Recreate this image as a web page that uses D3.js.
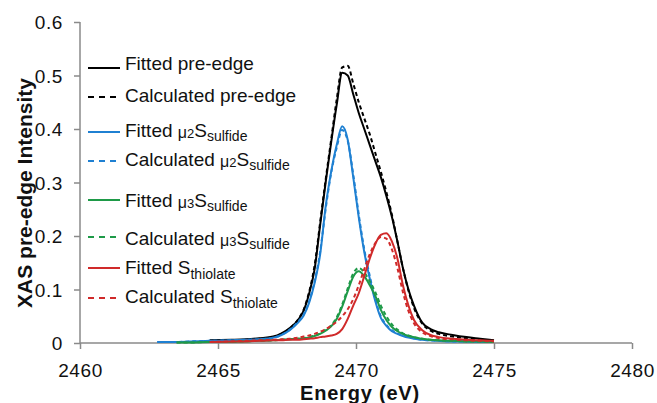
<!DOCTYPE html>
<html>
<head>
<meta charset="utf-8">
<script src="https://cdn.jsdelivr.net/npm/d3@7"></script>
<style>
  body { margin: 0; background: #fff; }
  svg { display: block; font-family: "Liberation Sans", Arial, sans-serif; }
  .axis path, .axis line { stroke: #8a8a8a; stroke-width: 1.5; }
  .axis text { font-size: 19px; fill: #111; letter-spacing: 0.6px; }
</style>
</head>
<body>
<div id="viz"></div>
<script>
// energy grid (eV) shared by all series
var energy = [2462.8, 2463.5, 2464.0, 2464.7, 2465.5, 2466.0, 2466.5, 2467.0, 2467.3, 2467.6,
  2467.9, 2468.1, 2468.3, 2468.5, 2468.7, 2468.9, 2469.1, 2469.3, 2469.5, 2469.7,
  2469.9, 2470.1, 2470.3, 2470.5, 2470.7, 2470.9, 2471.1, 2471.3, 2471.5, 2471.7,
  2471.9, 2472.1, 2472.4, 2472.7, 2473.0, 2473.5, 2474.0, 2474.5, 2475.0];

var fittedPreEdge = [null, null, null, 0.005, 0.006, 0.007, 0.009, 0.012, 0.018, 0.028,
  0.043, 0.060, 0.092, 0.138, 0.220, 0.300, 0.375, 0.445, 0.505, 0.500,
  0.465, 0.430, 0.400, 0.370, 0.340, 0.310, 0.275, 0.236, 0.190, 0.140,
  0.100, 0.070, 0.038, 0.026, 0.020, 0.015, 0.011, 0.008, 0.005];
var calcPreEdge = [null, null, null, 0.004, 0.005, 0.006, 0.008, 0.011, 0.017, 0.027,
  0.044, 0.062, 0.095, 0.145, 0.225, 0.305, 0.380, 0.455, 0.515, 0.518,
  0.485, 0.450, 0.420, 0.390, 0.355, 0.320, 0.282, 0.240, 0.190, 0.140,
  0.098, 0.066, 0.036, 0.023, 0.017, 0.012, 0.009, 0.006, 0.004];

var fittedMu2 = [0.002, 0.002, 0.003, 0.004, 0.005, 0.006, 0.007, 0.010, 0.015, 0.024,
  0.038, 0.051, 0.075, 0.112, 0.165, 0.255, 0.320, 0.370, 0.405, 0.380,
  0.310, 0.235, 0.170, 0.120, 0.078, 0.047, 0.032, 0.022, 0.017, 0.013,
  0.010, 0.008, 0.006, 0.005, 0.004, 0.003, 0.003, 0.002, 0.002];
var calcMu2 = [0.002, 0.002, 0.003, 0.004, 0.005, 0.006, 0.007, 0.010, 0.015, 0.025,
  0.040, 0.053, 0.078, 0.116, 0.170, 0.250, 0.318, 0.365, 0.398, 0.378,
  0.315, 0.240, 0.175, 0.125, 0.082, 0.050, 0.034, 0.024, 0.018, 0.014,
  0.011, 0.009, 0.006, 0.005, 0.004, 0.003, 0.003, 0.002, 0.002];

var fittedMu3 = [null, 0.001, 0.001, 0.002, 0.002, 0.003, 0.004, 0.005, 0.006, 0.007,
  0.008, 0.009, 0.010, 0.013, 0.017, 0.023, 0.031, 0.045, 0.068, 0.097,
  0.124, 0.134, 0.125, 0.108, 0.088, 0.062, 0.043, 0.030, 0.022, 0.017,
  0.013, 0.011, 0.008, 0.006, 0.005, 0.004, 0.003, 0.003, 0.002];
var calcMu3 = [null, 0.001, 0.001, 0.002, 0.002, 0.003, 0.004, 0.005, 0.006, 0.007,
  0.008, 0.009, 0.011, 0.014, 0.018, 0.025, 0.033, 0.048, 0.072, 0.102,
  0.130, 0.140, 0.132, 0.115, 0.095, 0.070, 0.050, 0.035, 0.025, 0.018,
  0.014, 0.011, 0.008, 0.006, 0.005, 0.004, 0.003, 0.003, 0.002];

var fittedThiolate = [null, null, null, 0.002, 0.003, 0.003, 0.004, 0.005, 0.005, 0.006,
  0.006, 0.007, 0.008, 0.009, 0.011, 0.012, 0.014, 0.017, 0.026, 0.045,
  0.070, 0.093, 0.125, 0.158, 0.185, 0.202, 0.205, 0.190, 0.158, 0.108,
  0.070, 0.043, 0.024, 0.015, 0.011, 0.008, 0.006, 0.005, 0.004];
var calcThiolate = [null, null, null, 0.002, 0.003, 0.004, 0.005, 0.006, 0.007, 0.008,
  0.010, 0.012, 0.014, 0.017, 0.021, 0.026, 0.032, 0.040, 0.050, 0.063,
  0.082, 0.108, 0.138, 0.166, 0.187, 0.198, 0.195, 0.175, 0.140, 0.095,
  0.060, 0.037, 0.020, 0.013, 0.009, 0.007, 0.005, 0.004, 0.003];

var xTicks = [2460, 2465, 2470, 2475, 2480];
var yTicks = [0, 0.1, 0.2, 0.3, 0.4, 0.5, 0.6];
var yTickLabels = ["0", "0.1", "0.2", "0.3", "0.4", "0.5", "0.6"];

var series = [
  { name: "Fitted", label: "pre-edge", values: fittedPreEdge, color: "#000000", dashed: false },
  { name: "Calculated", label: "pre-edge", values: calcPreEdge, color: "#000000", dashed: true },
  { name: "Fitted", label: "mu2", values: fittedMu2, color: "#1f80d2", dashed: false },
  { name: "Calculated", label: "mu2", values: calcMu2, color: "#1f80d2", dashed: true },
  { name: "Fitted", label: "mu3", values: fittedMu3, color: "#1e9a48", dashed: false },
  { name: "Calculated", label: "mu3", values: calcMu3, color: "#1e9a48", dashed: true },
  { name: "Fitted", label: "thiolate", values: fittedThiolate, color: "#d02a2a", dashed: false },
  { name: "Calculated", label: "thiolate", values: calcThiolate, color: "#d02a2a", dashed: true }
];

// legend rows: line y, text baseline
var legendRows = [[68, 70], [97, 102], [132, 137], [161, 166], [200, 207], [237, 245], [268, 274], [298, 303]];

var W = 657, H = 403;
var svg = d3.select('#viz').append('svg').attr('width', W).attr('height', H);

var x = d3.scaleLinear().domain([2460, 2480]).range([80, 632]);
var y = d3.scaleLinear().domain([0, 0.6]).range([343, 22]);

// axes
var yAxis = svg.append('g').attr('class', 'axis').attr('transform', 'translate(80,0)')
  .call(d3.axisLeft(y).tickValues(yTicks).tickSize(6).tickPadding(11)
    .tickFormat(function (d, i) { return yTickLabels[i]; }));
yAxis.select('.domain').attr('d', 'M0,' + y(0.6) + 'V' + y(0));
yAxis.selectAll('text').attr('dy', '0.35em');

var xAxis = svg.append('g').attr('class', 'axis').attr('transform', 'translate(0,343)')
  .call(d3.axisBottom(x).tickValues(xTicks).tickSize(6).tickFormat(d3.format('d')));
xAxis.select('.domain').attr('d', 'M' + x(2460) + ',0H' + x(2480));
xAxis.selectAll('text').attr('y', 34).attr('dy', 0);

// curves
var line = d3.line()
  .defined(function (d) { return d[1] !== null; })
  .x(function (d) { return x(d[0]); })
  .y(function (d) { return y(d[1]); })
  .curve(d3.curveMonotoneX);

svg.append('g').selectAll('path').data(series).enter()
  .append('path')
  .attr('d', function (s) {
    return line(energy.map(function (e, i) { return [e, s.values[i]]; }));
  })
  .attr('fill', 'none')
  .attr('stroke', function (s) { return s.color; })
  .attr('stroke-width', 2)
  .attr('stroke-dasharray', function (s) { return s.dashed ? '4,3' : null; });

// legend
var legend = svg.append('g');
series.forEach(function (s, i) {
  var row = legendRows[i];
  legend.append('line')
    .attr('x1', 88).attr('x2', 120)
    .attr('y1', row[0]).attr('y2', row[0])
    .attr('stroke', s.color).attr('stroke-width', 2)
    .attr('stroke-dasharray', s.dashed ? '6,5' : null);
  var t = legend.append('text')
    .attr('x', 125).attr('y', row[1])
    .style('font-size', '19px').style('fill', '#111');
  if (s.label === 'pre-edge') {
    t.text(s.name + ' pre-edge');
  } else if (s.label === 'thiolate') {
    t.append('tspan').text(s.name + ' S');
    t.append('tspan').attr('dy', 5).style('font-size', '14px').text('thiolate');
  } else {
    t.append('tspan').text(s.name + ' ');
    t.append('tspan').attr('dy', 1).style('font-size', '16px').text('μ');
    t.append('tspan').style('font-size', '13px').text(s.label === 'mu2' ? '2' : '3');
    t.append('tspan').attr('dy', -1).text('S');
    t.append('tspan').attr('dy', 4).style('font-size', '14px').text('sulfide');
  }
});

// axis titles
svg.append('text')
  .attr('transform', 'translate(32,193) rotate(-90)')
  .attr('text-anchor', 'middle')
  .style('font-size', '21px').style('font-weight', 'bold').style('fill', '#111')
  .text('XAS pre-edge Intensity');

svg.append('text')
  .attr('x', 360).attr('y', 400)
  .attr('text-anchor', 'middle')
  .style('font-size', '20px').style('font-weight', 'bold').style('fill', '#111')
  .style('letter-spacing', '0.8px')
  .text('Energy (eV)');
</script>
</body>
</html>
